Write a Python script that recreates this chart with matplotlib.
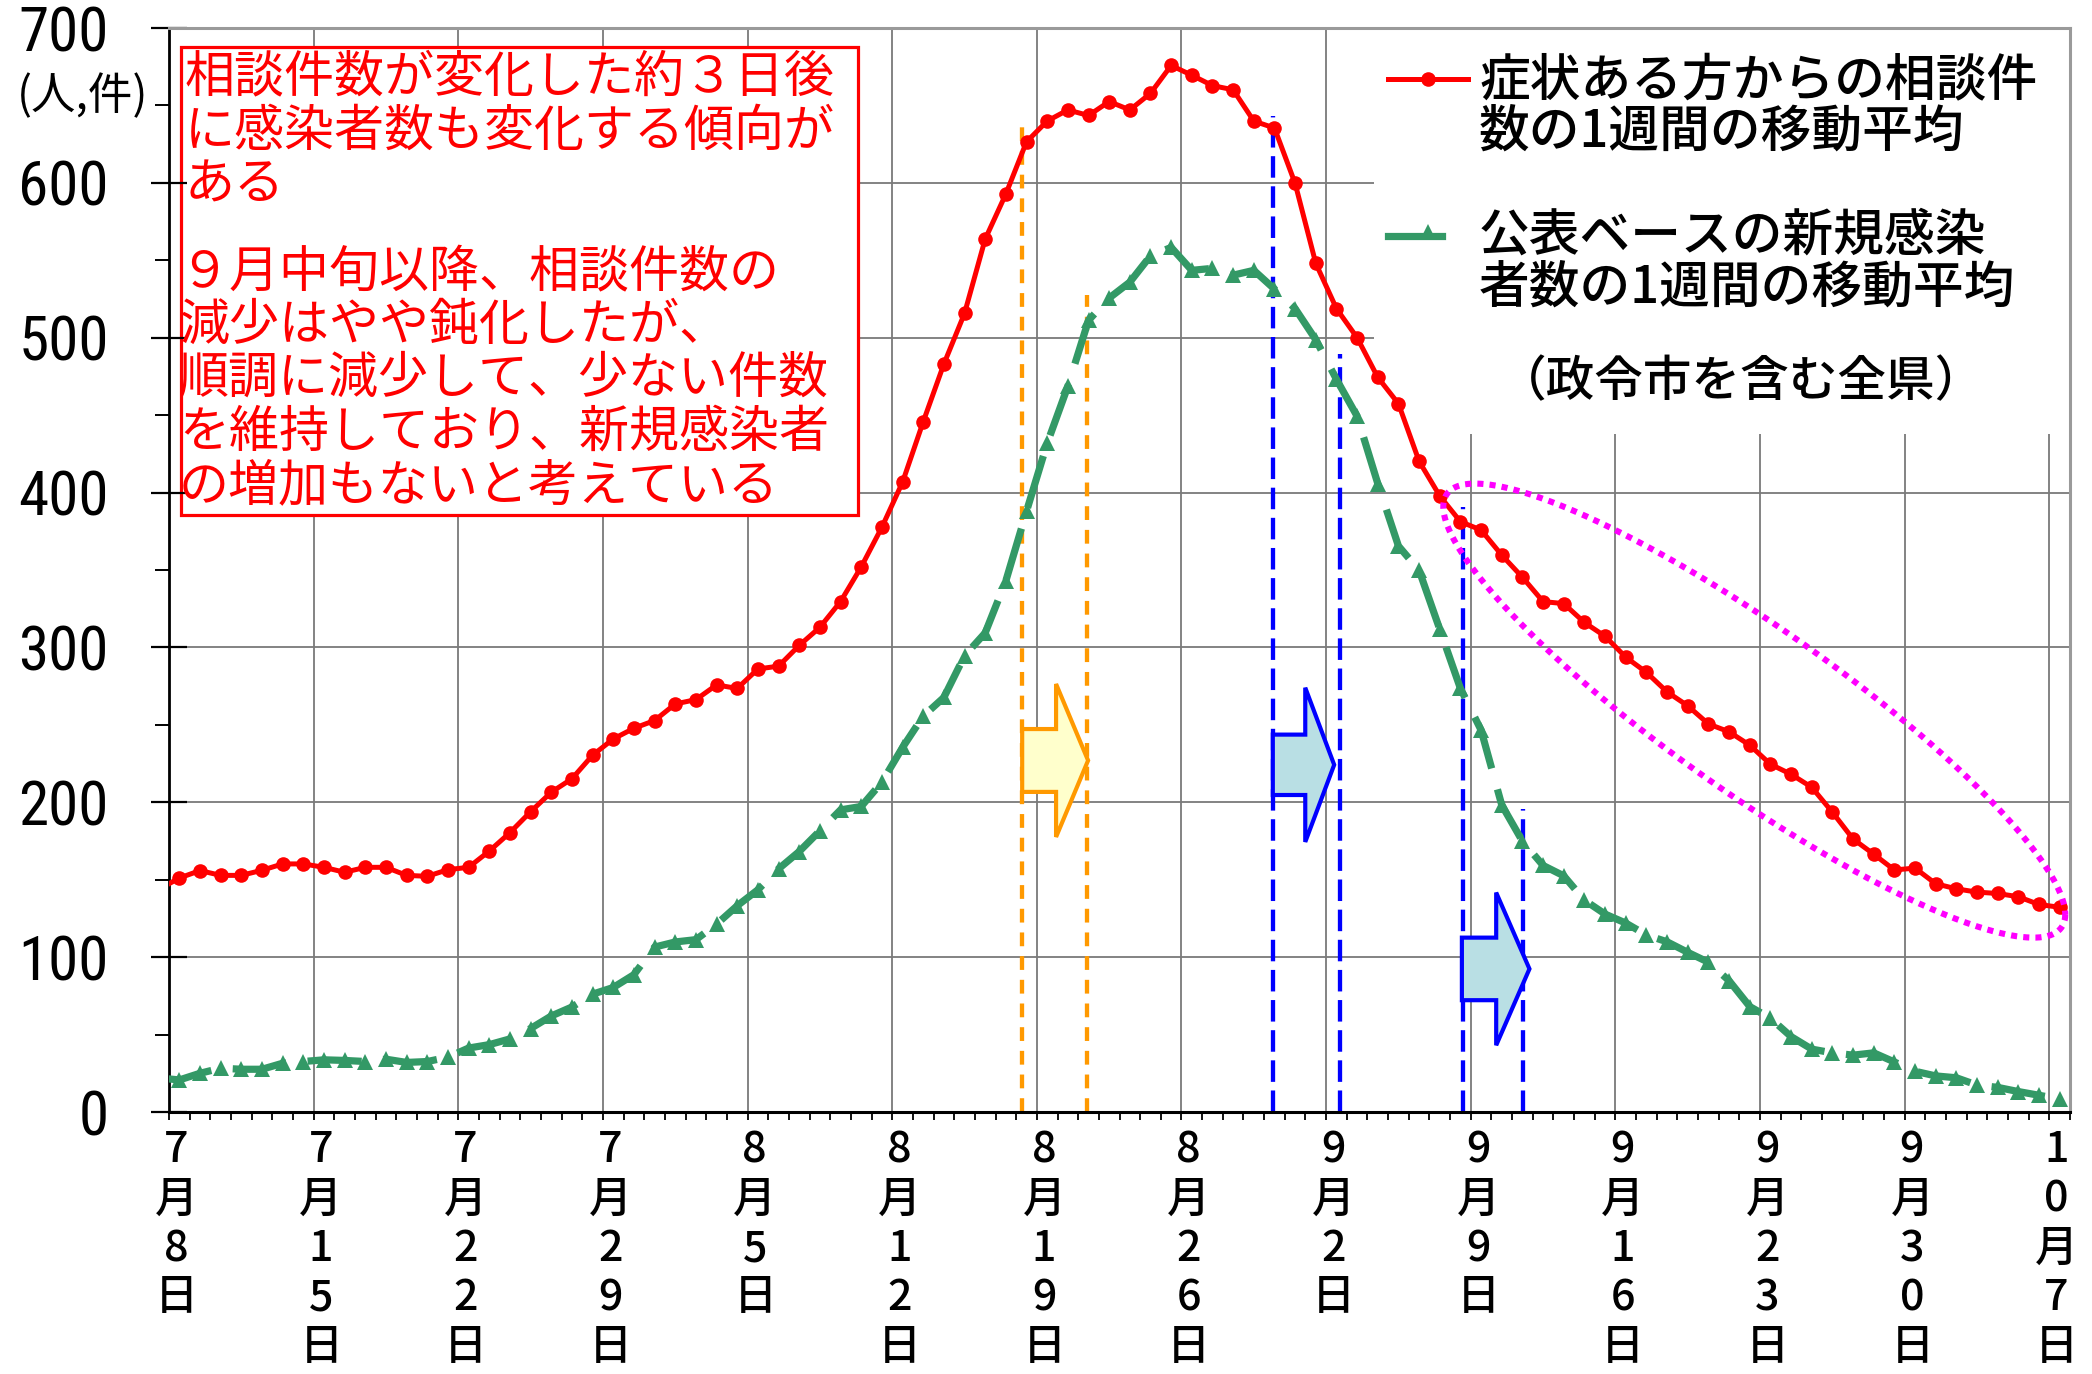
import numpy as np
import matplotlib
matplotlib.use('Agg')
import matplotlib.pyplot as plt
from matplotlib.patches import Rectangle, Polygon
from matplotlib.lines import Line2D
from matplotlib.transforms import blended_transform_factory

plt.rcParams['font.family'] = ['Noto Sans CJK JP', 'DejaVu Sans']

# ---------------- data (Jul 7 .. Oct 7; the Jul 7 point sits just left of the axis) -------------
consult = [143.7,
           151.1, 155.9, 152.8, 152.8, 156.1, 160.2, 160.2, 158.0, 154.8, 158.0, 158.0, 152.8, 152.2, 156.5, 158.0,
           168.5, 180.4, 193.9, 206.5, 215.2, 230.4, 240.9, 247.8, 252.8, 263.5, 266.3,
           275.8, 273.5, 286.1, 287.9, 301.3, 313.0, 329.6, 352.0, 377.6, 406.7, 445.7, 483.0, 515.7, 563.7,
           592.8, 626.5, 639.9, 647.1, 643.5, 652.5, 647.1, 657.8, 675.8, 669.5, 662.8,
           660.1, 639.9, 635.4, 599.6, 548.0, 518.8, 500.0, 474.4, 457.4, 420.2, 397.8, 381.2, 375.8, 359.6,
           345.3, 329.6, 328.3, 316.1, 307.2, 293.7, 283.9, 271.3, 262.3,
           250.6, 245.5, 236.9, 224.6, 218.1, 209.7, 193.6, 176.3, 166.5, 156.3, 157.5, 147.4, 144.1, 142.0,
           141.1, 139.0, 134.0, 132.2]
infected = [22.0,
            20.7, 25.0, 28.3, 27.6, 27.6, 31.5, 32.6, 33.7, 33.3, 32.6, 34.1, 32.0, 32.6, 35.4, 41.3, 43.5,
            47.2, 53.9, 62.0, 67.8, 76.1, 80.4, 88.7, 106.5, 109.8, 111.3, 121.3,
            133.2, 143.5, 157.0, 168.2, 181.6, 195.1, 197.3, 213.0, 235.4, 255.6, 267.7, 294.6, 309.4, 343.0,
            387.9, 431.8, 468.6, 511.2, 525.6, 535.9, 552.9, 558.3, 543.5, 544.8,
            540.4, 543.5, 531.4, 518.8, 498.7, 473.1, 449.3, 405.8, 365.5, 349.8, 311.7, 273.5, 246.6, 198.2,
            174.9, 159.2, 152.5, 136.8, 127.8, 122.0, 114.3, 109.9, 103.1,
            96.7, 84.8, 68.1, 60.6, 48.7, 40.6, 38.2, 36.7, 38.2, 32.3, 26.3, 23.3, 22.1, 17.4, 15.9, 13.2,
            10.8, 8.4]
x_labels = ['7月8日', '7月15日', '7月22日', '7月29日', '8月5日', '8月12日', '8月19日', '8月26日',
            '9月2日', '9月9日', '9月16日', '9月23日', '9月30日', '10月7日']
y_ticks = [0, 100, 200, 300, 400, 500, 600, 700]

legend_red = ['症状ある方からの相談件', '数の1週間の移動平均']
legend_green = ['公表ベースの新規感染', '者数の1週間の移動平均']
legend_note = '（政令市を含む全県）'
box_lines_1 = ['相談件数が変化した約３日後', 'に感染者数も変化する傾向が', 'ある']
box_lines_2 = ['９月中旬以降、相談件数の', '減少はやや鈍化したが、', '順調に減少して、少ない件数',
               'を維持しており、新規感染者', 'の増加もないと考えている']

# ---------------- figure ----------------
W, H = 2092, 1374
fig = plt.figure(figsize=(W / 100, H / 100), dpi=100)
def fx(px): return px / W
def fy(py): return 1 - py / H

ax = fig.add_axes([fx(169), fy(1112), (2070 - 169) / W, (1112 - 28) / H])
x = np.arange(-1, len(consult) - 1)
ax.set_xlim(-0.5, 91.5)
ax.set_ylim(0, 700)

GRID = '#7a7a7a'
ax.hlines(y_ticks[1:-1], -0.5, 91.5, colors=GRID, lw=1.3, zorder=0.5)
ax.vlines(np.arange(6.5, 91, 7), 0, 700, colors=GRID, lw=1.3, zorder=0.5)

# white areas of the legend and the text box
ax.add_patch(Rectangle((57.8, 438), 33.7, 262, facecolor='white', edgecolor='none', zorder=1))
ax.add_patch(Rectangle((0.08, 385.4), 32.77, 302.1, facecolor='white', edgecolor='#ff0000',
                       lw=2.3, zorder=1.5))

# vertical dashed guide lines
for xv, top in [(40.79, 640.7), (43.92, 527.7)]:
    ax.plot([xv, xv], [0, top], color='#ff9900', lw=3.1, ls=(0, (3.2, 2.3)), zorder=2)
for xv, top in [(52.92, 643.0), (56.15, 489.6), (62.12, 390.8), (65.05, 195.6)]:
    ax.plot([xv, xv], [0, top], color='#0000ff', lw=3.1, ls=(0, (5.0, 2.0)), zorder=2)

# series
ax.plot(x, infected, color='#339966', lw=5.2, ls=(0, (7.5, 3.0)), marker='^', ms=11,
        markeredgewidth=0, zorder=3, clip_on=True)
ax.plot(x, consult, color='#ff0000', lw=3.6, marker='o', ms=10.5, markeredgewidth=0,
        zorder=3.5, clip_on=True)

# block arrows
def block_arrow(x0, xb, xt, yc, sh, hh, fc, ec):
    pts = [(x0, yc - sh), (x0, yc + sh), (xb, yc + sh), (xb, yc + hh), (xt, yc),
           (xb, yc - hh), (xb, yc - sh)]
    ax.add_patch(Polygon(pts, closed=True, facecolor=fc, edgecolor=ec, lw=3, zorder=4,
                         joinstyle='miter'))
block_arrow(40.79, 42.43, 43.98, 227.0, 20.3, 49.4, '#ffffcc', '#ff9900')
block_arrow(52.92, 54.49, 55.89, 224.2, 19.5, 49.8, '#b9dfe4', '#0000ff')
block_arrow(62.07, 63.73, 65.34, 92.4, 20.2, 49.3, '#b9dfe4', '#0000ff')

# dotted ellipse
t = np.linspace(0, 2 * np.pi, 400)
ex = 76.22 + 15.05 * np.cos(t)
ey = 259.2 - 131.6 * np.cos(t) - 64.6 * np.sin(t)
ax.plot(ex, ey, color='#ff00ff', lw=4.4, ls=(0, (1, 1.0)), zorder=5, clip_on=False)

# axes styling
for s in ['top', 'right']:
    ax.spines[s].set_color('#9a9a9a')
    ax.spines[s].set_linewidth(2.2)
ax.spines['left'].set_color('black')
ax.spines['left'].set_linewidth(2.0)
ax.spines['bottom'].set_color('black')
ax.spines['bottom'].set_linewidth(2.2)

ax.set_yticks(y_ticks)
ax.set_yticks(np.arange(50, 700, 100), minor=True)
ax.tick_params(axis='y', which='major', direction='inout', length=26.6, width=1.6,
               labelsize=44, pad=30, colors='black')
ax.tick_params(axis='y', which='minor', direction='out', length=10, width=1.4)
for lbl in ax.get_yticklabels():
    lbl.set_fontfamily(['Liberation Sans Narrow', 'Arial Narrow', 'Roboto Condensed',
                        'Noto Sans Condensed', 'Open Sans Condensed', 'DejaVu Sans Condensed',
                        'Liberation Sans'])
    lbl.set_fontstretch('condensed')
ax.set_xticks(np.arange(0, 92, 7))
ax.set_xticklabels([])
ax.set_xticks(np.arange(-0.5, 92, 1), minor=True)
ax.tick_params(axis='x', which='major', length=0)
ax.tick_params(axis='x', which='minor', direction='out', length=5.5, width=1.3)

# stacked x labels
bt = blended_transform_factory(ax.transData, fig.transFigure)
for k, lab in enumerate(x_labels):
    for j, ch in enumerate(lab):
        ax.text(7 * k - 0.15, fy(1150 + 49.3 * j), ch, transform=bt, ha='center', va='center',
                fontsize=31, fontweight='medium', color='black', clip_on=False)

fig.text(fx(17), fy(96), '(人,件)', ha='left', va='center', fontsize=32)

# text box content
for j, s in enumerate(box_lines_1):
    fig.text(fx(185), fy(77 + 54.5 * j), s, ha='left', va='center', fontsize=36, color='#ff0000')
for j, s in enumerate(box_lines_2):
    fig.text(fx(179), fy(272 + 53.5 * j), s, ha='left', va='center', fontsize=36, color='#ff0000')

# legend
fig.add_artist(Line2D([fx(1388), fx(1468)], [fy(79), fy(79)], color='#ff0000', lw=3.6))
fig.add_artist(Line2D([fx(1428)], [fy(79)], color='#ff0000', marker='o', ms=10.5, markeredgewidth=0))
fig.add_artist(Line2D([fx(1388), fx(1442)], [fy(236), fy(236)], color='#339966', lw=5.2))
fig.add_artist(Line2D([fx(1428)], [fy(232)], color='#339966', marker='^', ms=11, markeredgewidth=0))
for j, s in enumerate(legend_red):
    fig.text(fx(1479), fy(80 + 52 * j), s, ha='left', va='center', fontsize=36.5,
             fontweight='medium', color='black')
for j, s in enumerate(legend_green):
    fig.text(fx(1479), fy(236 + 52 * j), s, ha='left', va='center', fontsize=36.5,
             fontweight='medium', color='black')
fig.text(fx(1741), fy(382), legend_note, ha='center', va='center', fontsize=35,
         fontweight='medium', color='black')

fig.savefig('out.png', dpi=100, facecolor='white')
